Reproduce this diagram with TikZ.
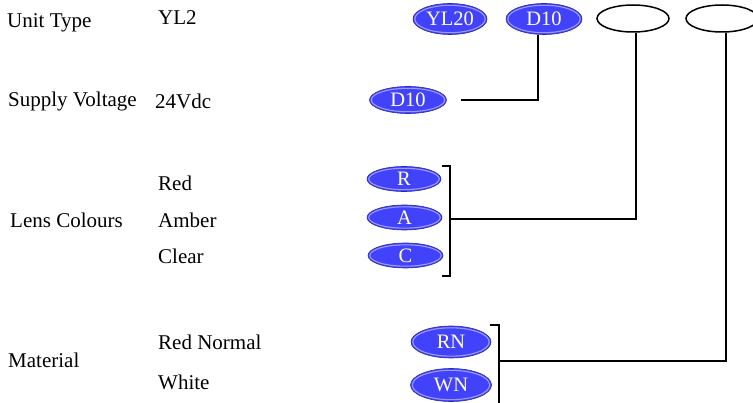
\documentclass[tikz,border=0pt]{standalone}
\usepackage{fontspec}
\setmainfont{Liberation Serif}
\usetikzlibrary{shapes.geometric,calc}
\definecolor{pillblue}{RGB}{66,66,250}
\definecolor{pilldark}{RGB}{40,40,175}
\definecolor{pilllight}{RGB}{155,155,255}
\begin{document}
\begin{tikzpicture}[x=1pt,y=-1pt,
  lbl/.style={anchor=base west, inner sep=0, font=\fontsize{21}{24}\selectfont},
  pill/.style={ellipse, inner sep=0, fill=pillblue, draw=pilldark, line width=0.6pt,
    text=white, font=\fontsize{20.5}{22}\selectfont,
    path picture={\path let \p1=(path picture bounding box.north east),
      \p2=(path picture bounding box.center) in
      [draw=pilllight, line width=1.1pt] (\p2) ellipse ({\x1-\x2-1.8pt} and {\y1-\y2-1.8pt});}},
  blank/.style={ellipse, inner sep=0, draw=black, line width=1.5pt, minimum width=72, minimum height=27},
  conn/.style={draw=black, line width=1.2pt}]
\useasboundingbox (0,0) rectangle (753,403);
% left labels
\node[lbl] (t1) at (7,28) {Unit Type};
\node[lbl] (t2) at (8,107) {Supply Voltage};
\node[lbl] (t3) at (10,228) {Lens Colours};
\node[lbl] (t4) at (8,368) {Material};
% option labels
\node[lbl] (o1) at (158,25) {YL2};
\node[lbl] (o2) at (155,109) {24Vdc};
\node[lbl] (o3) at (158,191) {Red};
\node[lbl] (o4) at (158,228) {Amber};
\node[lbl] (o5) at (158,264) {Clear};
\node[lbl] (o6) at (158,350) {Red Normal};
\node[lbl] (o7) at (158,390) {White};
% top row pills
\node[pill, minimum width=74, minimum height=31] (yl) at (450,19) {YL20};
\node[pill, minimum width=76, minimum height=31] (dt) at (544,19) {D10};
\node[blank] (e1) at (633,18.5) {};
\node[blank] (e2) at (722,18.5) {};
% supply pill
\node[pill, minimum width=77, minimum height=27] (ds) at (408,100) {D10};
% lens pills
\node[pill, minimum width=74, minimum height=25] (pr) at (404,179) {R};
\node[pill, minimum width=75, minimum height=25] (pa) at (404.5,217.5) {A};
\node[pill, minimum width=75, minimum height=25] (pc) at (405.5,255.5) {C};
% material pills
\node[pill, minimum width=80, minimum height=32] (prn) at (451,342) {RN};
\node[pill, minimum width=81, minimum height=33] (pwn) at (451,385) {WN};
% connectors
\coordinate (dsend) at (461,100);
\draw[conn] (dsend) -| ([xshift=-6pt]dt.south);
\draw[conn] (442,166) -- (450,166) -- (450,276) -- (442,276);
\coordinate (lensmid) at (450,219);
\draw[conn] (lensmid) -| ([xshift=3pt]e1.south);
\draw[conn] (490,325) -- (499,325) -- (499,405);
\coordinate (matmid) at (499,361);
\draw[conn] (matmid) -| ([xshift=4pt]e2.south);
\end{tikzpicture}
\end{document}
